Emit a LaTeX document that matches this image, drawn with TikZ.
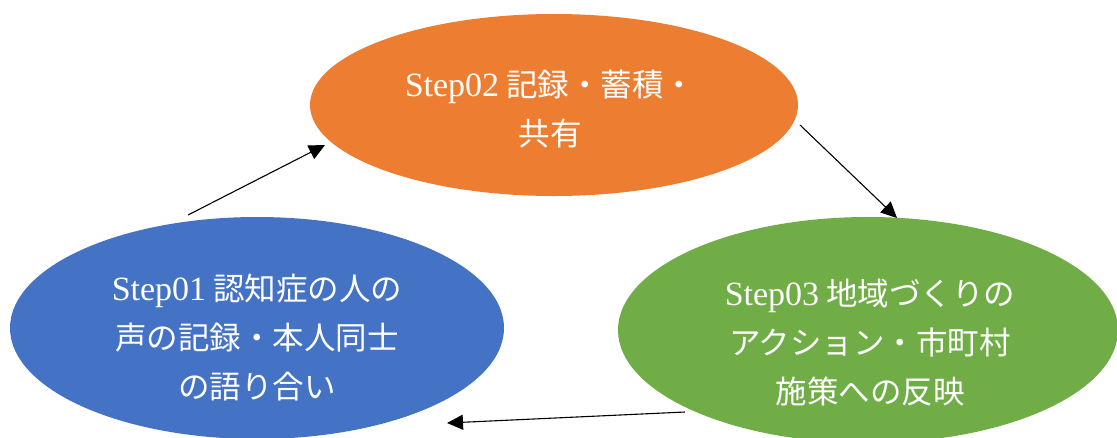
\documentclass[tikz,border=0pt]{standalone}
\usepackage{fontspec}
\setmainfont{Liberation Serif}
\newfontfamily\cjk{Noto Sans CJK JP}
\usetikzlibrary{shapes.geometric,arrows.meta}
\definecolor{oorange}{HTML}{ED7D31}
\definecolor{oblue}{HTML}{4472C4}
\definecolor{ogreen}{HTML}{70AD47}
\tikzset{
  blob/.style={ellipse, inner sep=0pt, draw=none},
  lbl/.style={text=white, align=center, font=\fontsize{31.5}{49}\selectfont\cjk, inner sep=0pt},
  conn/.style={draw=black, line width=1.1pt, -{Triangle[length=16pt,width=15pt]}}
}
\newcommand{\lat}[1]{{\fontsize{34}{49}\selectfont\rmfamily #1}}
\begin{document}
\begin{tikzpicture}[x=1pt,y=-1pt]
\useasboundingbox (0,0) rectangle (1117,437);
\fill[white] (0,0) rectangle (1117,437);
\node[blob, fill=oorange, minimum width=488pt, minimum height=182pt] (s2) at (554,105) {};
\node[blob, fill=oblue, minimum width=494pt, minimum height=222pt] (s1) at (257,328) {};
\node[blob, fill=ogreen, minimum width=500pt, minimum height=226pt] (s3) at (868,330) {};
\node[lbl] (t2) at (550,109) {\lat{Step02} 記録・蓄積・\\共有};
\node[lbl] (t1) at (257,338) {\lat{Step01} 認知症の人の\\声の記録・本人同士\\の語り合い};
\node[lbl] (t3) at (870,343) {\lat{Step03} 地域づくりの\\アクション・市町村\\施策への反映};
\coordinate (a1s) at (188,215);
\coordinate (a1e) at (325,145);
\coordinate (a2s) at (800,125);
\coordinate (a2e) at (897,218);
\coordinate (a3s) at (685,412);
\coordinate (a3e) at (447,423);
\draw[conn] (a1s) -- (a1e);
\draw[conn] (a2s) -- (a2e);
\draw[conn] (a3s) -- (a3e);
\end{tikzpicture}
\end{document}
